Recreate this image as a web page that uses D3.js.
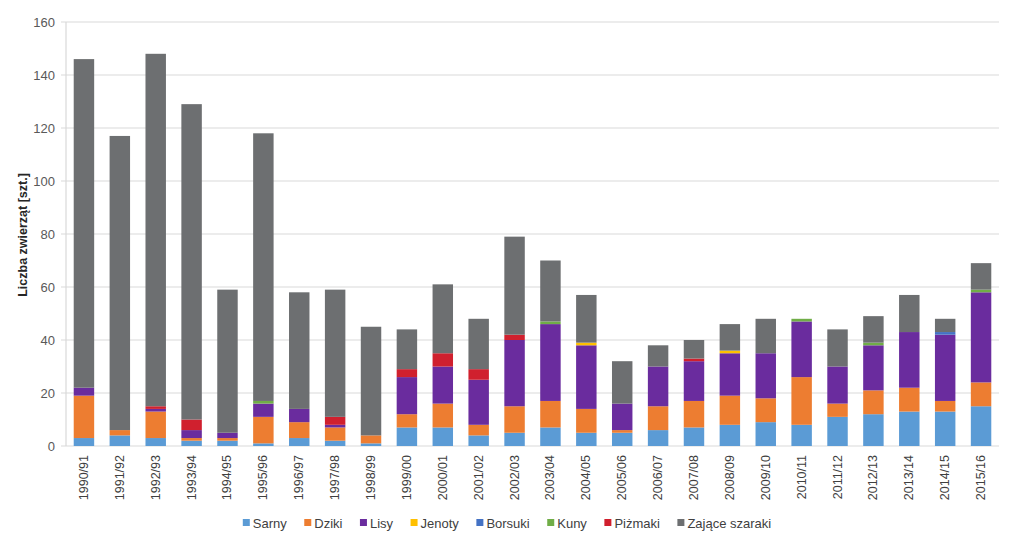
<!DOCTYPE html>
<html><head><meta charset="utf-8">
<script src="https://cdn.jsdelivr.net/npm/d3@7"></script>
<style>body{margin:0;background:#fff}</style>
</head><body>
<svg id="c" width="1024" height="548"></svg>
<script>
const categories = ["1990/91","1991/92","1992/93","1993/94","1994/95","1995/96","1996/97","1997/98","1998/99","1999/00","2000/01","2001/02","2002/03","2003/04","2004/05","2005/06","2006/07","2007/08","2008/09","2009/10","2010/11","2011/12","2012/13","2013/14","2014/15","2015/16"];
const seriesNames = ["Sarny","Dziki","Lisy","Jenoty","Borsuki","Kuny","Piżmaki","Zające szaraki"];
const sarny   = [3,4,3,2,2,1,3,2,1,7,7,4,5,7,5,5,6,7,8,9,8,11,12,13,13,15];
const dziki   = [16,2,10,1,1,10,6,5,3,5,9,4,10,10,9,1,9,10,11,9,18,5,9,9,4,9];
const lisy    = [3,0,1,3,2,5,5,1,0,14,14,17,25,29,24,10,15,15,16,17,21,14,17,21,25,34];
const jenoty  = [0,0,0,0,0,0,0,0,0,0,0,0,0,0,1,0,0,0,1,0,0,0,0,0,0,0];
const borsuki = [0,0,0,0,0,0,0,0,0,0,0,0,0,0,0,0,0,0,0,0,0,0,0,0,1,0];
const kuny    = [0,0,0,0,0,1,0,0,0,0,0,0,0,1,0,0,0,0,0,0,1,0,1,0,0,1];
const pizmaki = [0,0,1,4,0,0,0,3,0,3,5,4,2,0,0,0,0,1,0,0,0,0,0,0,0,0];
const zajace  = [124,111,133,119,54,101,44,48,41,15,26,19,37,23,18,16,8,7,10,13,0,14,10,14,5,10];
const yTicks = [0,20,40,60,80,100,120,140,160];
const colors = ["#5b9bd5","#ed7d31","#6a2c9e","#ffc000","#4472c4","#70ad47","#d0202e","#6d6f71"];

const seriesValues = [sarny,dziki,lisy,jenoty,borsuki,kuny,pizmaki,zajace];
const table = categories.map((c,i)=>{const o={cat:c}; seriesNames.forEach((s,j)=>o[s]=seriesValues[j][i]); return o;});
const stack = d3.stack().keys(seriesNames)(table);

const svg = d3.select("#c");
const m = {l:66, r:999, t:22, b:446};
const x = d3.scaleBand().domain(categories).range([m.l,m.r]).paddingInner(0.43).paddingOuter(0.215);
const y = d3.scaleLinear().domain([0,160]).range([m.b,m.t]);

// gridlines
svg.append("g").selectAll("line").data(yTicks).join("line")
  .attr("x1",m.l-5).attr("x2",m.r).attr("y1",d=>y(d)).attr("y2",d=>y(d))
  .attr("stroke","#d9d9d9").attr("stroke-width",1.2);
svg.append("line").attr("x1",m.l).attr("x2",m.l).attr("y1",m.t).attr("y2",m.b).attr("stroke","#d9d9d9").attr("stroke-width",1.2);

// y tick labels
svg.append("g").selectAll("text").data(yTicks).join("text")
  .attr("x",55).attr("y",d=>y(d)).attr("dy","0.35em").attr("text-anchor","end")
  .attr("font-family","Liberation Sans, Arial, sans-serif").attr("font-size",13).attr("fill","#595959")
  .text(d=>d);

// bars
svg.append("g").selectAll("g").data(stack).join("g").attr("fill",(d,i)=>colors[i])
  .selectAll("rect").data(d=>d).join("rect")
  .attr("x",d=>x(d.data.cat)).attr("width",x.bandwidth())
  .attr("y",d=>y(d[1])).attr("height",d=>y(d[0])-y(d[1]));

// x labels
svg.append("g").selectAll("text").data(categories).join("text")
  .attr("transform",d=>`translate(${x(d)+x.bandwidth()/2+4},${m.b+9}) rotate(-90)`)
  .attr("text-anchor","end")
  .attr("font-family","Liberation Sans, Arial, sans-serif").attr("font-size",12.5).attr("fill","#404040")
  .text(d=>d);

// y axis title
svg.append("text").attr("transform",`translate(27,235) rotate(-90)`).attr("text-anchor","middle")
  .attr("font-family","Liberation Sans, Arial, sans-serif").attr("font-size",12.5).attr("font-weight","bold").attr("fill","#262626")
  .text("Liczba zwierząt [szt.]");

// legend
const lg = svg.append("g");
let cx = 0;
const gap = 17.5;
seriesNames.forEach((s,i)=>{
  const g = lg.append("g").attr("transform",`translate(${cx},0)`);
  g.append("rect").attr("x",0).attr("y",-4).attr("width",7).attr("height",7).attr("fill",colors[i]);
  const t = g.append("text").attr("x",10).attr("y",0).attr("dy","0.35em")
    .attr("font-family","Liberation Sans, Arial, sans-serif").attr("font-size",13).attr("fill","#404040").text(s);
  cx += 10 + t.node().getComputedTextLength() + gap;
});
const lw = cx - gap;
lg.attr("transform",`translate(${507 - lw/2},523)`);
</script>
</body></html>
